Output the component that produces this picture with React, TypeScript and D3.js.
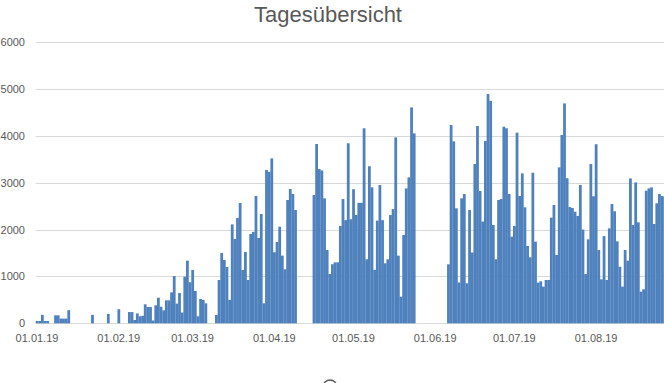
import React from "react";
import * as d3 from "d3";

// Daily values, one array per month (2019)
const jan = [50, 50, 180, 50, 50, 0, 0, 170, 170, 100, 100, 100, 280, 0, 0, 0, 0, 0, 0, 0, 0, 180, 0, 0, 0, 0, 0, 200, 0, 0, 0];
const feb = [300, 0, 0, 0, 240, 240, 70, 210, 150, 160, 405, 348, 348, 60, 384, 547, 355, 277, 490, 490, 660, 1009, 420, 647, 230, 995, 1336, 875];
const mar = [1137, 690, 150, 519, 500, 426, 0, 0, 0, 178, 924, 1500, 1350, 1200, 500, 2110, 1800, 2246, 2566, 1137, 1521, 924, 1905, 1950, 2715, 1820, 2331, 426, 3270, 3230, 3518];
const apr = [1514, 1734, 2061, 1443, 1151, 2630, 2864, 2758, 2416, 0, 0, 0, 0, 0, 0, 2736, 3824, 3290, 3260, 2665, 1563, 1050, 1260, 1300, 1300, 2075, 2650, 2200, 3840, 2220];
const may = [2860, 2310, 2570, 2570, 4160, 1365, 3350, 2900, 1140, 2190, 2950, 2200, 1280, 1365, 2310, 2437, 3965, 1443, 569, 1883, 2878, 3113, 4605, 4051, 0, 0, 0, 0, 0, 0, 0];
const jun = [0, 0, 0, 0, 0, 1258, 4230, 3880, 2452, 870, 2665, 2757, 853, 2416, 1510, 3397, 4207, 2822, 2170, 3890, 4890, 4745, 2097, 1365, 2630, 2650, 4193, 4160, 2758, 1848];
const jul = [2075, 4066, 2715, 3198, 2473, 1649, 1407, 3212, 1741, 867, 895, 782, 924, 924, 2253, 2523, 1457, 3326, 4016, 4690, 3095, 2480, 2460, 2380, 2290, 2950, 2000, 1050, 1790, 3397, 2710];
const aug = [3820, 1563, 938, 1860, 924, 2025, 2544, 2390, 1748, 1207, 782, 1563, 1336, 3090, 2097, 3005, 2153, 675, 725, 2829, 2878, 2900, 2118, 2559, 2757, 2715, 2700];

const months = [jan, feb, mar, apr, may, jun, jul, aug];
const yTicks = [0, 1000, 2000, 3000, 4000, 5000, 6000];
const title = "Tagesübersicht";

const W = 664;
const H = 383;
const DAY = 2.637;
const LEFT = 35.7;
const BASE = 323.3;
const TOP = 42;

export default function App() {
  const data: { date: Date; value: number }[] = [];
  months.forEach((arr, m) => {
    arr.forEach((v, i) => {
      data.push({ date: new Date(Date.UTC(2019, m, i + 1)), value: v });
    });
  });
  const start = new Date(Date.UTC(2019, 0, 1));
  const nDays = 240;
  const end = new Date(Date.UTC(2019, 0, 1 + nDays));
  const x = d3.scaleUtc().domain([start, end]).range([LEFT, LEFT + nDays * DAY]);
  const y = d3.scaleLinear().domain([0, 6000]).range([BASE, TOP]);
  const monthTicks = d3.utcMonth.range(start, new Date(Date.UTC(2019, 8, 1)));
  const fmt = d3.utcFormat("%d.%m.%y");
  const font = "'Liberation Sans', Arial, sans-serif";
  const grey = "#595959";

  return (
    <div style={{ position: "absolute", left: 0, top: 0 }}>
      <svg width={W} height={H} style={{ display: "block", background: "#fff" }}>
        <text x={328} y={22} textAnchor="middle" fontFamily={font} fontSize={22} fill={grey}>
          {title}
        </text>
        {yTicks.map((t) => (
          <g key={t}>
            <line x1={LEFT} x2={W} y1={Math.round(y(t)) + 0.5} y2={Math.round(y(t)) + 0.5} stroke="#D9D9D9" strokeWidth={1} />
            <text x={25} y={y(t) + 4} textAnchor="end" fontFamily={font} fontSize={11} fill={grey}>
              {t}
            </text>
          </g>
        ))}
        {data
          .filter((d) => d.value > 0)
          .map((d, i) => (
            <rect
              key={i}
              x={x(d.date)}
              width={DAY + 0.15}
              y={y(d.value)}
              height={y(0) - y(d.value)}
              fill="#4F81BD"
            />
          ))}
        {monthTicks.map((m) => (
          <text key={+m} x={x(m) + DAY / 2} y={342} textAnchor="middle" fontFamily={font} fontSize={11} fill={grey}>
            {fmt(m)}
          </text>
        ))}
        <circle cx={330} cy={387} r={7} fill="none" stroke={grey} strokeWidth={1.3} />
      </svg>
    </div>
  );
}
